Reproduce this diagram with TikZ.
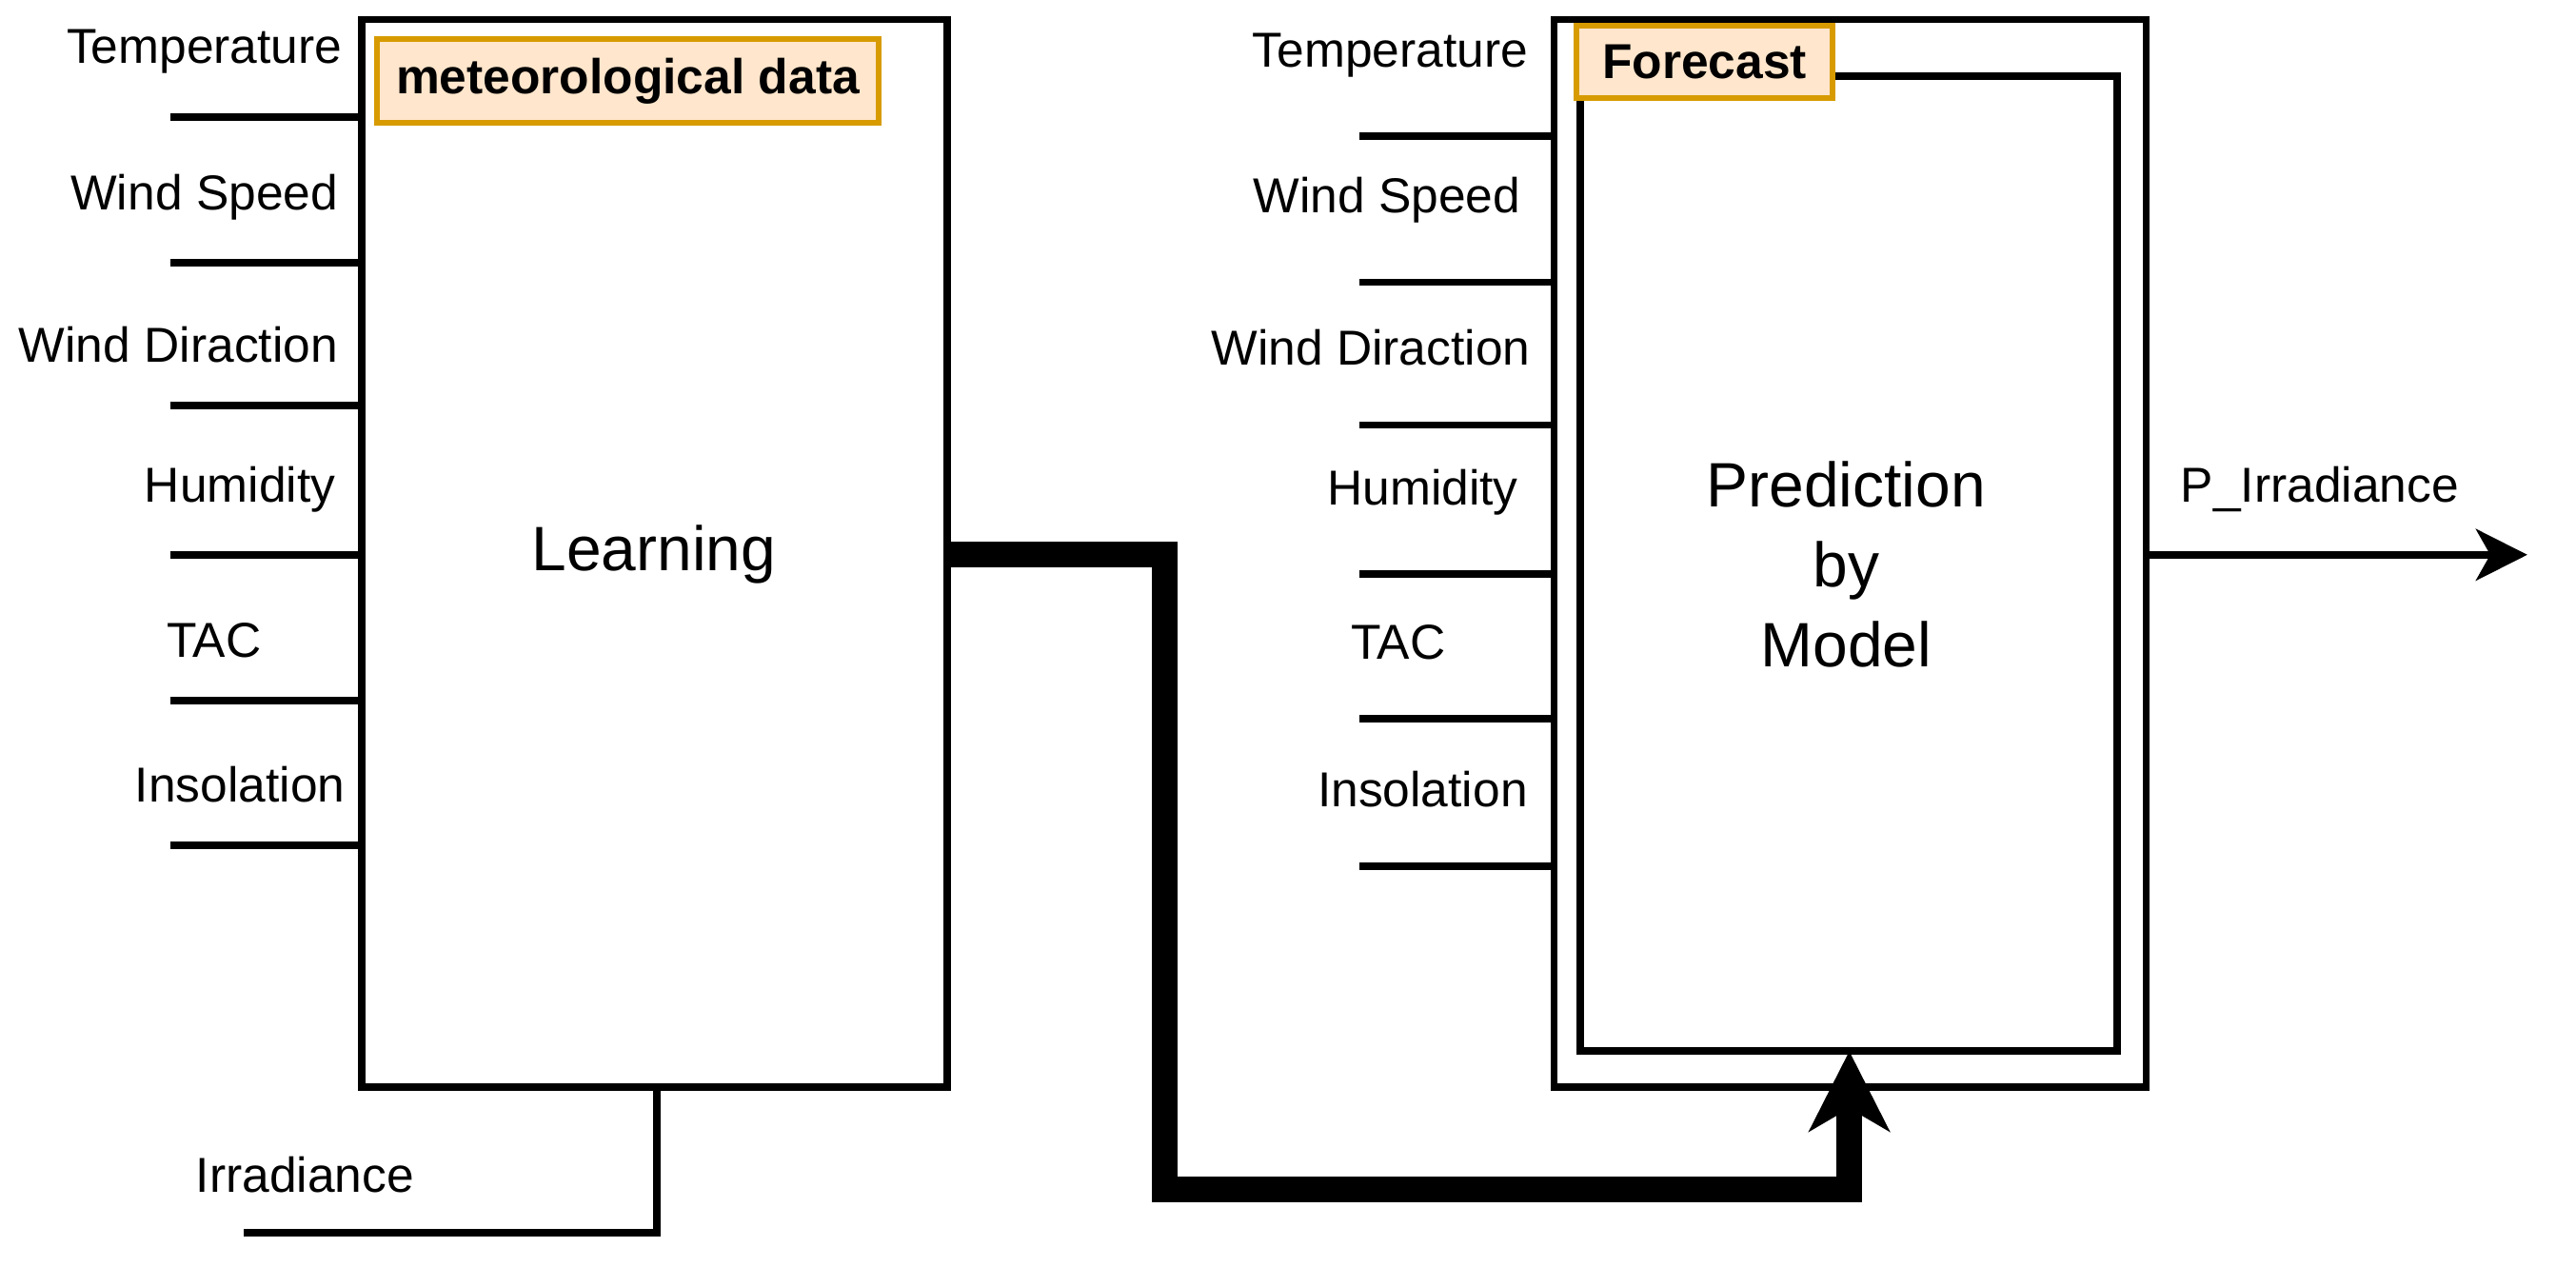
\documentclass[tikz,border=0pt]{standalone}
\usepackage{fontspec}
\setmainfont{Liberation Sans}
\usetikzlibrary{arrows.meta}
\definecolor{tagdraw}{HTML}{D79B00}
\definecolor{tagfill}{HTML}{FFE6CC}
\begin{document}
\begin{tikzpicture}[x=0.01cm,y=-0.01cm,
  box/.style={draw,line width=1.3pt},
  inl/.style={line width=1.3pt},
  lab/.style={font=\fontsize{8.6}{11}\selectfont,anchor=south},
  tag/.style={draw=tagdraw,fill=tagfill,line width=1pt,font=\fontsize{8.6}{11}\selectfont\bfseries}]
\useasboundingbox (0,0) rectangle (1588,781);
% left
\draw[box] (223,12) rectangle (584,670);
\node[tag,minimum width=3.01cm,minimum height=0.44cm] (met) at (387,50) {meteorological data};
\node[font=\fontsize{11}{13}\selectfont] (learn) at (403,342) {Learning};
\foreach \y/\t/\x in {72/Temperature/126,162/Wind Speed/126,250/Wind Diraction/110,342/Humidity/148,432/TAC/132,521/Insolation/148}{
  \coordinate (a\y) at (105,\y); \coordinate (b\y) at (223,\y);
  \draw[inl] (a\y) -- (b\y);
  \node[lab] at (\x,\y-14) {\t};}
\coordinate (ir1) at (405,670); \coordinate (ir2) at (405,760); \coordinate (ir3) at (150,760);
\draw[inl] (ir1) -- (ir2) -- (ir3);
\node[lab] at (188,748) {Irradiance};
% right
\draw[box] (958,12) rectangle (1323,670);
\draw[box] (974,47) rectangle (1305,648);
\node[tag,minimum width=1.58cm,minimum height=0.32cm,anchor=north west] (fc) at (970,14) {Forecast};
\node[font=\fontsize{11}{14}\selectfont,align=center] (pred) at (1138,348) {Prediction\\by\\Model};
\foreach \y/\t/\x in {84/Temperature/857,174/Wind Speed/855,262/Wind Diraction/845,354/Humidity/877,443/TAC/862,534/Insolation/877}{
  \coordinate (c\y) at (838,\y); \coordinate (d\y) at (958,\y);
  \draw[inl] (c\y) -- (d\y);
  \node[lab] at (\x,\y-24) {\t};}
\coordinate (o1) at (1323,342); \coordinate (o2) at (1558,342);
\draw[inl,-{Stealth[length=9pt,width=9pt,inset=2.5pt]}] (o1) -- (o2);
\node[lab] at (1430,328) {P\_Irradiance};
% thick
\coordinate (t1) at (584,342); \coordinate (t2) at (1140,648);
\draw[line width=4.5pt,-{Stealth[length=14pt,width=14pt,inset=4pt]}] (t1) -- (718,342) -- (718,733) -- (1140,733) -- (t2);
\end{tikzpicture}
\end{document}
